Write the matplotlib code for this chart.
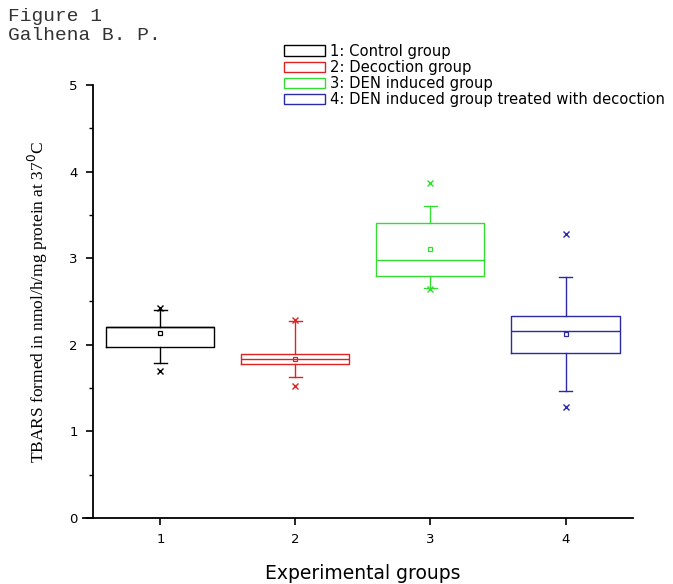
import matplotlib
matplotlib.use("Agg")
import matplotlib.pyplot as plt
from matplotlib.patches import Patch

# valores
grupos = [1, 2, 3, 4]
etiquetas = ["1: Control group", "2: Decoction group", "3: DEN induced group",
             "4: DEN induced group treated with decoction"]
colores = ["#000000", "#dd2222", "#33dd33", "#2a2aa8"]

q1 = [1.98, 1.775, 2.80, 1.91]
mediana = [2.20, 1.835, 2.98, 2.155]
q3 = [2.21, 1.89, 3.41, 2.33]
bigote_inf = [1.79, 1.625, 2.65, 1.47]
bigote_sup = [2.40, 2.275, 3.60, 2.78]
media = [2.14, 1.84, 3.11, 2.12]
extremos = [[1.70, 2.43], [1.52, 2.29], [2.64, 3.87], [1.285, 3.28]]

fig = plt.figure(figsize=(6.73, 5.84), dpi=100)
ax = fig.add_axes([0.138, 0.113, 0.8026, 0.7415])

for i, g in enumerate(grupos):
    stats = [dict(med=mediana[i], q1=q1[i], q3=q3[i], whislo=bigote_inf[i],
                  whishi=bigote_sup[i], mean=media[i], fliers=extremos[i])]
    c = colores[i]
    ax.bxp(stats, positions=[g], widths=0.8, capwidths=0.1, showmeans=True,
           manage_ticks=False,
           boxprops=dict(color=c, linewidth=1.0),
           medianprops=dict(color=c, linewidth=1.0),
           whiskerprops=dict(color=c, linewidth=1.0),
           capprops=dict(color=c, linewidth=1.0),
           meanprops=dict(marker="s", markersize=3.5, markerfacecolor="none",
                          markeredgecolor=c, markeredgewidth=0.9),
           flierprops=dict(marker="x", markersize=4, markeredgecolor=c,
                           markeredgewidth=1.0, linestyle="none"))

ax.set_xlim(0.5, 4.5)
ax.set_ylim(0, 5)
ax.set_xticks(grupos)
ax.set_yticks([0, 1, 2, 3, 4, 5])
ax.set_yticks([0.5, 1.5, 2.5, 3.5, 4.5], minor=True)
ax.spines["top"].set_visible(False)
ax.spines["right"].set_visible(False)
for s in ["left", "bottom"]:
    ax.spines[s].set_linewidth(1.3)
# el eje x sobresale un poco a la izquierda, como en Origin
ax.spines["bottom"].set_bounds(0.43, 4.5)
ax.tick_params(axis="both", which="major", direction="out", length=5, width=1.2,
               labelsize=9.5, pad=6)
ax.tick_params(axis="y", which="minor", direction="out", length=3, width=1.0)
for lab in ax.get_xticklabels() + ax.get_yticklabels():
    lab.set_fontfamily("DejaVu Sans")

ax.set_xlabel("Experimental groups", fontsize=13.5, family="DejaVu Sans")
ax.xaxis.set_label_coords(0.5, -0.127)
ax.xaxis.label.set_va("center")
ax.set_ylabel("TBARS formed in nmol/h/mg protein at 37$^0$C", fontsize=12.5,
              family="Liberation Serif")
ax.yaxis.set_label_coords(-0.102, 0.5)
ax.yaxis.label.set_va("center")

manijas = [Patch(facecolor="white", edgecolor=c, linewidth=1.0) for c in colores]
fig.legend(manijas, etiquetas, loc="upper left", bbox_to_anchor=(284 / 673, 1 - 44 / 584),
           frameon=False, prop={"family": "DejaVu Sans", "size": 10.6},
           handlelength=2.8, handleheight=0.75, labelspacing=0.07, handletextpad=0.3,
           borderpad=0, borderaxespad=0)

fig.text(0.012, 1 - 21 / 584, "Figure 1", family="Liberation Mono", fontsize=14,
         va="baseline", color="#333333")
fig.text(0.012, 1 - 40 / 584, "Galhena B. P.", family="Liberation Mono", fontsize=14,
         va="baseline", color="#333333")

fig.savefig("out.png", dpi=100)
